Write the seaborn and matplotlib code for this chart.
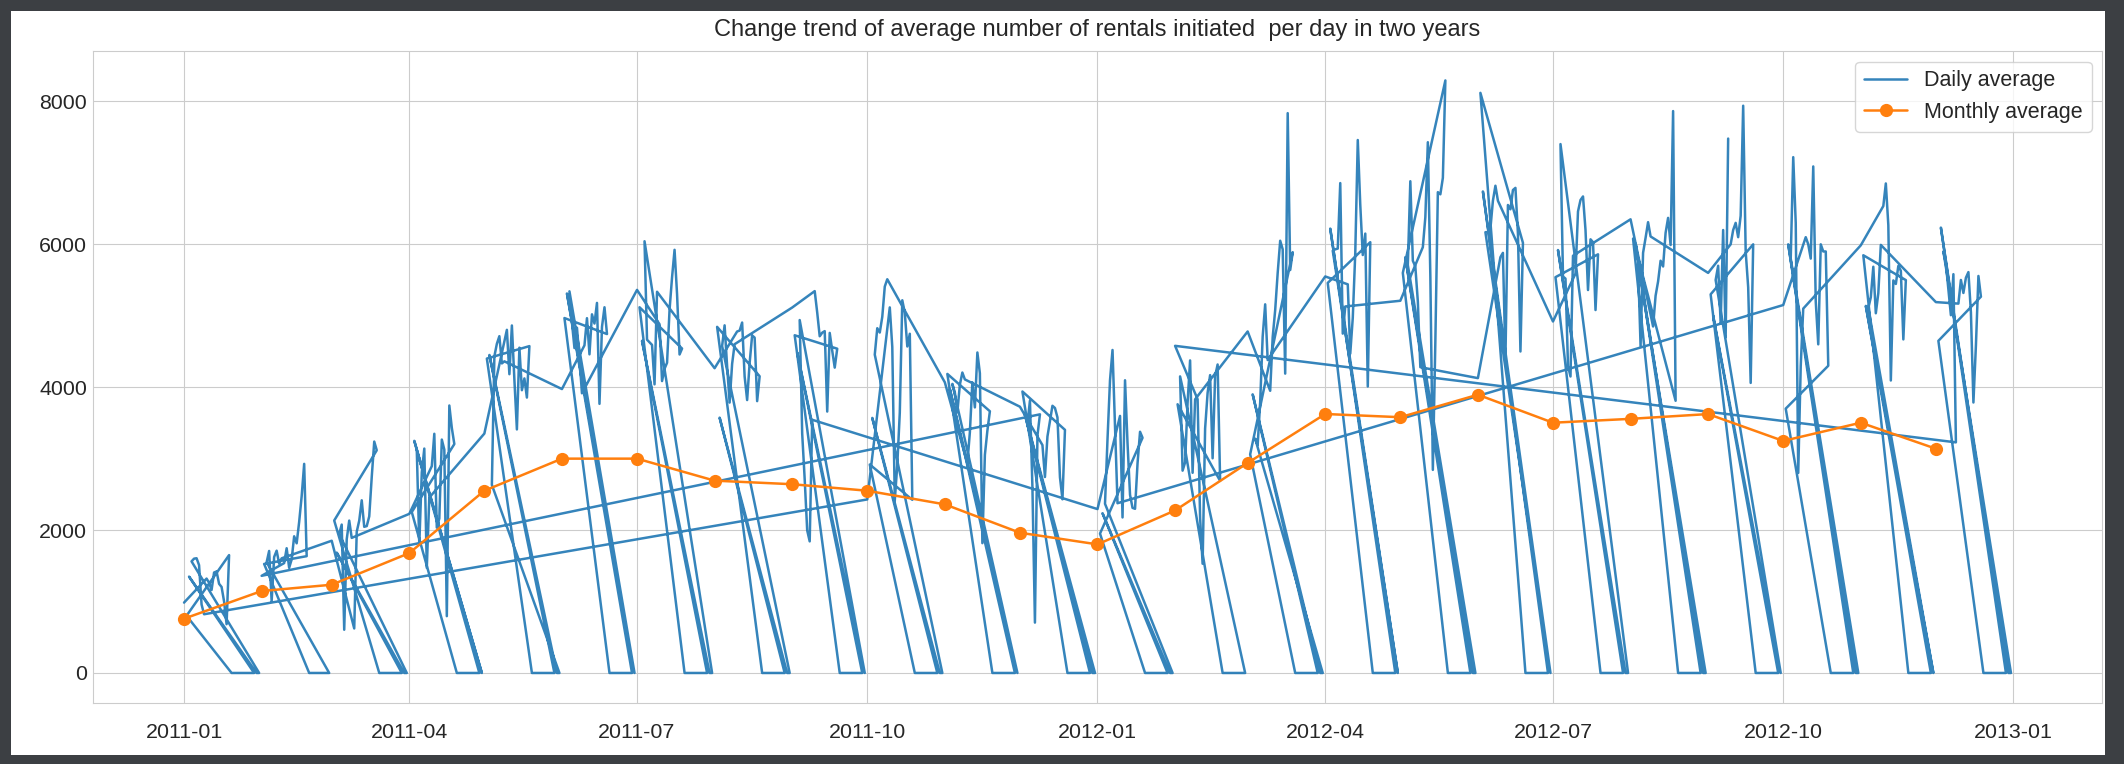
import numpy as np
import pandas as pd
import matplotlib
matplotlib.use('Agg')
import matplotlib.pyplot as plt
import seaborn as sns

# rentals per day, days 1-19 of every month (days 20+ are 0 in the data)
jan11 = [985, 801, 1349, 1562, 1600, 1606, 1510, 959, 822, 1321, 1263, 1162, 1406, 1421, 1248, 1204, 1000, 683, 1650]
feb11 = [1360, 1526, 1550, 1708, 1005, 1623, 1712, 1530, 1605, 1538, 1746, 1472, 1589, 1913, 1815, 2115, 2475, 2927, 1635]
mar11 = [1851, 2134, 1685, 1944, 2077, 605, 1872, 2133, 1891, 623, 1977, 2132, 2417, 2046, 2056, 2192, 2744, 3239, 3117]
apr11 = [2227, 2252, 3249, 3115, 1795, 2808, 3141, 1471, 2455, 2895, 3348, 2034, 2162, 3267, 3126, 795, 3744, 3429, 3204]
may11 = [3351, 4401, 4451, 2633, 4433, 4608, 4714, 4333, 4362, 4803, 4182, 4864, 4105, 3409, 4553, 3958, 4123, 3855, 4575]
jun11 = [3974, 4968, 5312, 5342, 4906, 4548, 4833, 4401, 3915, 4586, 4966, 4460, 5020, 4891, 5180, 3767, 4844, 5119, 4744]
jul11 = [5362, 5119, 4649, 6043, 4665, 4629, 4592, 4040, 5336, 4881, 4086, 4258, 4342, 5084, 5538, 5923, 5302, 4458, 4541]
aug11 = [4266, 4845, 3574, 4576, 4866, 4294, 3785, 4326, 4602, 4780, 4792, 4905, 4150, 3820, 4338, 4725, 4694, 3805, 4153]
sep11 = [5115, 4727, 4484, 4940, 3351, 2710, 1996, 1842, 3544, 5345, 5046, 4713, 4763, 4785, 3659, 4760, 4511, 4274, 4539]
oct11 = [2429, 2918, 3570, 4456, 4826, 4765, 4985, 5409, 5511, 5117, 4563, 2416, 2913, 3644, 5217, 5041, 4570, 4748, 2424]
nov11 = [4068, 4186, 3974, 4046, 3926, 3649, 4035, 4205, 4109, 2933, 3368, 4067, 3717, 4486, 4195, 1817, 3053, 3392, 3663]
dec11 = [3727, 3940, 3614, 3485, 3811, 2594, 705, 3322, 3620, 3190, 2743, 3310, 3523, 3740, 3709, 3577, 2739, 2431, 3403]
jan12 = [2294, 1951, 2236, 2368, 3272, 4098, 4521, 3425, 2376, 3598, 2177, 4097, 3214, 2493, 2311, 2298, 2935, 3376, 3292]
feb12 = [4579, 3761, 4151, 2832, 2947, 3784, 4375, 2802, 3830, 3831, 2169, 1529, 3422, 3922, 4169, 3005, 4154, 4318, 2689]
mar12 = [4780, 3060, 3900, 3280, 3190, 3790, 4710, 5160, 4380, 3950, 4700, 5080, 5600, 6050, 5930, 4190, 7836, 5640, 5890]
apr12 = [5550, 5460, 6220, 5910, 5930, 5940, 6857, 4750, 5130, 5440, 4470, 4970, 5880, 7460, 6550, 5850, 6150, 4010, 6030]
may12 = [5210, 5600, 5820, 5710, 6883, 5770, 5690, 5200, 4280, 5960, 6380, 7429, 5550, 2843, 4640, 6730, 6700, 6930, 8294]
jun12 = [4127, 8120, 6740, 6170, 6170, 6220, 6610, 6820, 6610, 5820, 5880, 4390, 6550, 6490, 6760, 6790, 6150, 4500, 6020]
jul12 = [4920, 5540, 5920, 7403, 5550, 5520, 4300, 4150, 5840, 5590, 6460, 6620, 6670, 6200, 5360, 6070, 6030, 5080, 5860]
aug12 = [6350, 6080, 6010, 5720, 4580, 5880, 6090, 6310, 6110, 4850, 5280, 5480, 5770, 5690, 6160, 6370, 5990, 7865, 3810]
sep12 = [5600, 5300, 5000, 5500, 5700, 4900, 6200, 4700, 7480, 6000, 6200, 6300, 6100, 6400, 7940, 5900, 5400, 4060, 6000]
oct12 = [5150, 3700, 6000, 5800, 7220, 6300, 2800, 4300, 5100, 6100, 6000, 5800, 7090, 5200, 4600, 6000, 5900, 5900, 4300]
nov12 = [5986, 5847, 5138, 5107, 5259, 5686, 5035, 5315, 5992, 6536, 6852, 6269, 4094, 5495, 5445, 5698, 5629, 4669, 5499]
dec12 = [5191, 4649, 6234, 5900, 5729, 5375, 5008, 5582, 3228, 5170, 5501, 5319, 5532, 5611, 5047, 3786, 4585, 5557, 5267]

monthly_avg = [760, 1147, 1235, 1678, 2551, 3000, 3000, 2692, 2642, 2551, 2360, 1963,
               1800, 2275, 2940, 3625, 3580, 3895, 3503, 3557, 3624, 3248, 3503, 3139]

months = pd.period_range('2011-01', '2012-12', freq='M')
per_month = [jan11, feb11, mar11, apr11, may11, jun11, jul11, aug11, sep11, oct11, nov11, dec11,
             jan12, feb12, mar12, apr12, may12, jun12, jul12, aug12, sep12, oct12, nov12, dec12]

rows = []
for m, vals in zip(months, per_month):
    for d in range(1, m.days_in_month + 1):
        rows.append((f'{m.year}-{m.month}-{d}', vals[d - 1] if d <= 19 else 0))
daily = pd.DataFrame(rows, columns=['day', 'count'])
# days kept as unpadded strings and sorted as text, as in the original
daily = daily.sort_values('day').reset_index(drop=True)
daily['date'] = pd.to_datetime(daily['day'], format='%Y-%m-%d')

month_start = pd.date_range('2011-01-01', periods=24, freq='MS')

sns.set_style('whitegrid')
plt.rcParams['font.family'] = ['Liberation Sans', 'DejaVu Sans']

fig = plt.figure(figsize=(21.24, 7.64), dpi=100)
fig.patch.set_facecolor('#3c3f43')
fig.add_artist(plt.Rectangle((11 / 2124, 9 / 764), 2094 / 2124, 744 / 764,
                             transform=fig.transFigure, facecolor='white',
                             edgecolor='none', zorder=-1))
ax = fig.add_axes([92.7 / 2124, 61.4 / 764, 2009.6 / 2124, 651.8 / 764])

sns.lineplot(data=daily, x='date', y='count', sort=False, estimator=None,
             color='#1f77b4', linewidth=1.8, alpha=0.9, label='Daily average', ax=ax)
sns.lineplot(x=month_start, y=monthly_avg, color='#ff7f0e', linewidth=1.8,
             marker='o', markersize=9.5, markeredgewidth=0, label='Monthly average', ax=ax)

ax.set_title('Change trend of average number of rentals initiated  per day in two years',
             fontsize=17, color='#262626', pad=11)
ax.set_xlabel('')
ax.set_ylabel('')
ax.set_yticks([0, 2000, 4000, 6000, 8000])
ax.tick_params(axis='x', labelsize=15.4, length=0, pad=15)
ax.tick_params(axis='y', labelsize=15.4, length=0, pad=4)
ax.legend(loc='upper right', fontsize=15.5)

fig.savefig('out.png', dpi=100, facecolor=fig.get_facecolor())
